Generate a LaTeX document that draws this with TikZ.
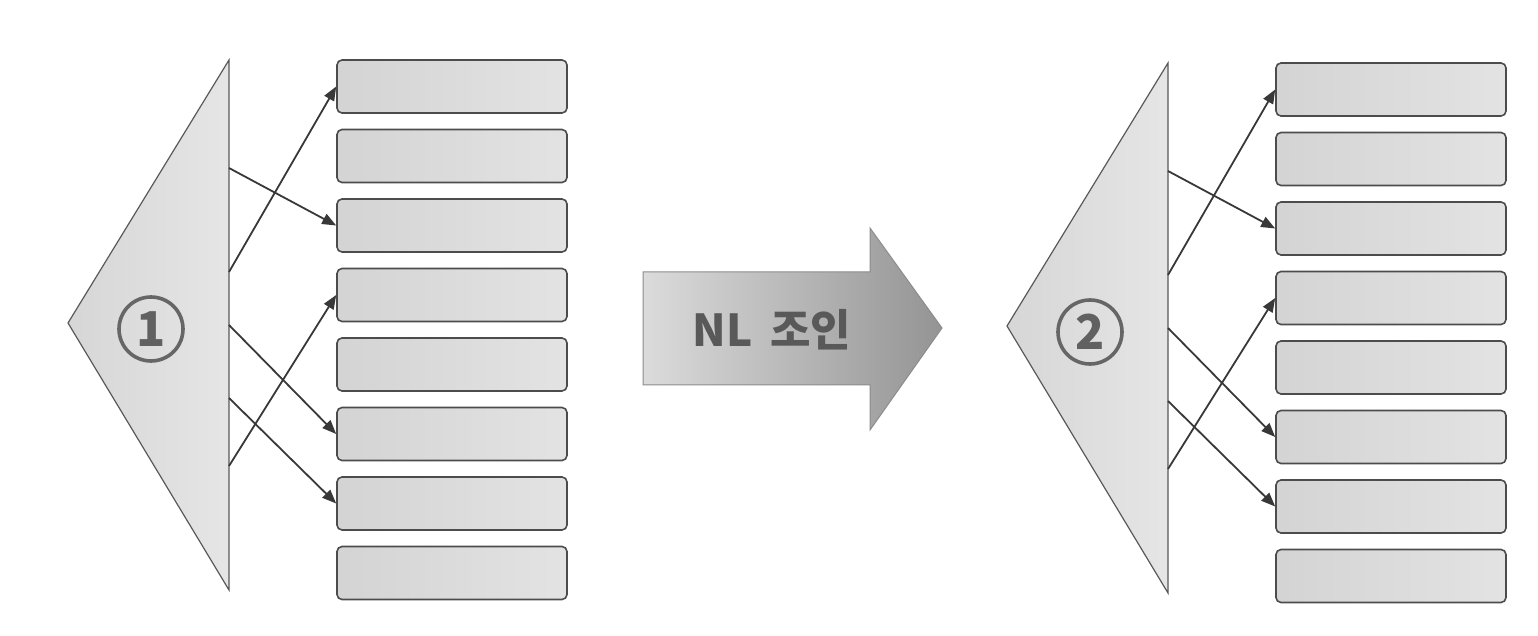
\documentclass[tikz,border=0pt]{standalone}
\usepackage{fontspec}
\setmainfont{Noto Sans CJK KR}
\usetikzlibrary{arrows.meta}

\begin{document}
\begin{tikzpicture}[x=0.5pt,y=-0.5pt,
   tri/.style={draw=black!65,line width=0.6pt,left color=black!16,right color=black!10},
   rec/.style={draw=black!70,line width=0.8pt,rounded corners=2.5pt,inner sep=0pt,
      minimum width=115pt,minimum height=26.5pt,left color=black!17,right color=black!11},
   num/.style={circle,draw=black!60,line width=1.8pt,text=black!62,inner sep=0pt,
      minimum size=32pt,font=\bfseries\fontsize{24}{24}\selectfont},
   link/.style={draw=black!78,line width=0.9pt,-{Triangle[length=7pt,width=5.5pt]}},
   bigarrow/.style={draw=black!45,line width=0.5pt,left color=black!14,right color=black!42}]
\useasboundingbox (0,0) rectangle (1538,636);

\foreach \p/\dx/\dy/\n in {l/0/0/1, r/939/3/2}
{
\begin{scope}[shift={(\dx,\dy)}]
  \coordinate (\p apex) at (68,323);
  \coordinate (\p top) at (229,60);
  \coordinate (\p bot) at (229,590);
  \path[tri] (\p apex) -- (\p top) -- (\p bot) -- cycle;
  \node[num] (\p num) at (151,329) {\n};
  \foreach \i in {1,...,8}
    \node[rec] (\p\i) at (452,{86.5+69.5*(\i-1)}) {};
  \foreach \j/\y in {1/168,2/272,3/325,4/398,5/466}
    \coordinate (\p s\j) at (229,\y);
  \draw[link] (\p s1) -- (\p3.west);
  \draw[link] (\p s2) -- (\p1.west);
  \draw[link] (\p s3) -- (\p6.west);
  \draw[link] (\p s4) -- (\p7.west);
  \draw[link] (\p s5) -- (\p4.west);
\end{scope}
}

% NL join arrow between the two plans
\path[bigarrow] (643,272) -- (870,272) -- (870,228) -- (942,328)
   -- (870,430) -- (870,385) -- (643,385) -- cycle;
\node[text=black!65,font=\bfseries\fontsize{22}{22}\selectfont] (join) at (772,330) {NL\hspace{0.4em}조인};
\end{tikzpicture}
\end{document}
